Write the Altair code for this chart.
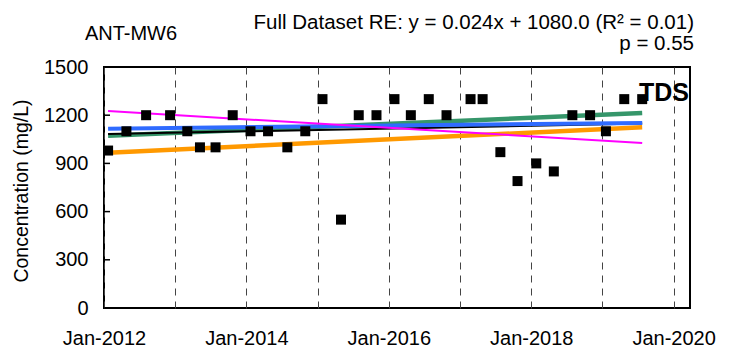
import altair as alt
import pandas as pd

# ---- data ----
sample_dates = ["2012-01-22", "2012-04-25", "2012-08-04", "2012-12-05", "2013-03-04",
                "2013-05-08", "2013-07-27", "2013-10-23", "2014-01-22", "2014-04-22",
                "2014-07-30", "2014-10-30", "2015-01-26", "2015-05-01", "2015-07-31",
                "2015-10-30", "2016-01-30", "2016-04-23", "2016-07-24", "2016-10-23",
                "2017-02-24", "2017-04-27", "2017-07-27", "2017-10-23", "2018-01-27",
                "2018-04-27", "2018-07-31", "2018-10-30", "2019-01-19", "2019-04-23",
                "2019-07-24"]
tds_values = [980, 1100, 1200, 1200, 1100, 1000, 1000, 1200, 1100, 1100,
              1000, 1100, 1300, 550, 1200, 1200, 1300, 1200, 1300, 1200,
              1300, 1300, 970, 790, 900, 850, 1200, 1200, 1100, 1300, 1300]

trend_names = ["green", "orange", "black", "blue", "magenta"]
trend_colors = ["#35966A", "#FF9900", "#000000", "#2F6BFF", "#FF00FF"]
trend_widths = [4.5, 4.5, 2, 4, 2]
trend_start = [1072, 966, 1083, 1116, 1226]
trend_end = [1213, 1125, 1148, 1152, 1027]
trend_x = ["2012-01-22", "2019-07-24"]

y_ticks = [0, 300, 600, 900, 1200, 1500]
x_years = [2012, 2013, 2014, 2015, 2016, 2017, 2018, 2019, 2020]

FONT = "Liberation Sans"


def dec_year(s):
    d = pd.Timestamp(s)
    return d.year + (d.dayofyear - 1) / 365.25


pts = pd.DataFrame({"t": [dec_year(s) for s in sample_dates], "v": tds_values})

rows = []
for i, n in enumerate(trend_names):
    rows.append({"name": n, "order": i, "t": dec_year(trend_x[0]), "v": trend_start[i]})
    rows.append({"name": n, "order": i, "t": dec_year(trend_x[1]), "v": trend_end[i]})
lines = pd.DataFrame(rows)

xscale = alt.Scale(domain=[2012, 2020.23], nice=False, zero=False)
yscale = alt.Scale(domain=[0, 1500], nice=False)

xaxis = alt.Axis(values=x_years, title=None, grid=True, gridDash=[7, 6],
                 gridColor="#444444", gridWidth=1, ticks=False, domain=False,
                 labelExpr="datum.value % 2 == 0 ? 'Jan-' + datum.value : ''",
                 labelFlush=False, labelOverlap=False, labelFont=FONT,
                 labelFontSize=20, labelColor="black", labelPadding=20)
yaxis = alt.Axis(values=y_ticks, title=None, grid=False, ticks=False, domain=False,
                 format="d", labelFont=FONT, labelFontSize=20, labelColor="black",
                 labelPadding=16)

base_x = alt.X("t:Q", scale=xscale, axis=xaxis)
base_y = alt.Y("v:Q", scale=yscale, axis=yaxis)

line_layers = []
for i, n in enumerate(trend_names):
    line_layers.append(
        alt.Chart(lines[lines["name"] == n]).mark_line(
            color=trend_colors[i], strokeWidth=trend_widths[i], clip=True
        ).encode(x=alt.X("t:Q", scale=xscale, axis=xaxis),
                 y=alt.Y("v:Q", scale=yscale, axis=yaxis))
    )

points = alt.Chart(pts).mark_square(size=100, color="black", opacity=1).encode(
    x=base_x, y=base_y)

ticks = alt.Chart(pd.DataFrame({"v": y_ticks})).mark_rule(color="black", strokeWidth=1.5).encode(
    x=alt.value(0), x2=alt.value(6), y=alt.Y("v:Q", scale=yscale, axis=yaxis))


def label(text, x, y, align="left", size=18, weight="normal", angle=0, baseline="alphabetic"):
    return alt.Chart(pd.DataFrame({"txt": [text]})).mark_text(
        font=FONT, fontSize=size, fontWeight=weight, align=align, baseline=baseline,
        angle=angle, color="black"
    ).encode(text="txt:N", x=alt.value(x), y=alt.value(y))


texts = [
    label("ANT-MW6", 27, -27, align="center", size=20),
    label("Full Dataset RE: y = 0.024x + 1080.0 (R² = 0.01)", 590, -38, align="right", size=20.5),
    label("p = 0.55", 590, -17, align="right", size=20.5),
    label("TDS", 585, 34, align="right", size=25, weight="bold"),
    label("Concentration (mg/L)", -82, 124, align="center", size=19.5, angle=270,
          baseline="middle"),
]

chart = alt.layer(ticks, *line_layers, points, *texts).properties(
    width=586, height=241,
    autosize=alt.AutoSizeParams(type="none"),
    padding={"left": 96, "top": 59, "right": 40, "bottom": 40},
).configure_view(stroke="black", strokeWidth=2)

chart.save("out.html", embed_options={"renderer": "svg", "actions": False})
